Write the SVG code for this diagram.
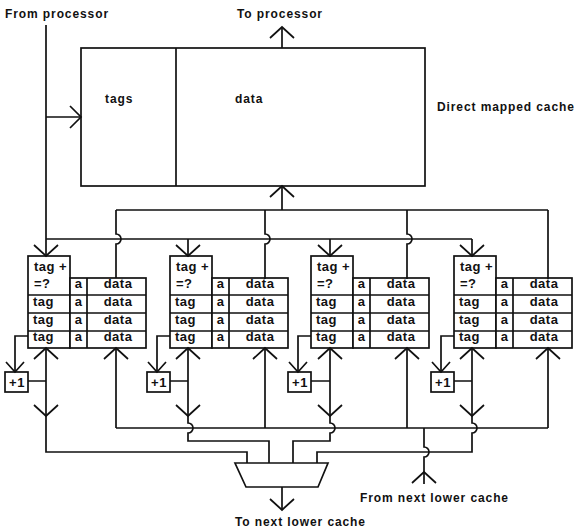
<svg xmlns="http://www.w3.org/2000/svg" xmlns:xlink="http://www.w3.org/1999/xlink" width="578" height="532" viewBox="0 0 578 532">
  <style>
    .ln { fill: none; stroke: #111; stroke-width: 1.7; stroke-linejoin: miter; }
    .bx { fill: #fff; stroke: #111; stroke-width: 1.7; }
    .t  { font-family: "Liberation Sans", Arial, Helvetica, sans-serif; font-weight: bold; font-size: 12px; letter-spacing: 0.9px; fill: #111; }
    .k  { font-size: 13px; letter-spacing: 0.5px; }
    .c  { text-anchor: middle; }
  </style>
  <defs>
    <!-- open arrowheads, apex at the origin -->
    <path id="ah-down" class="ln" d="M-12,-11 L0,0 L12,-11"/>
    <path id="ah-up" class="ln" d="M-12,11 L0,0 L12,11"/>
    <path id="ah-right" class="ln" d="M-11,-11 L0,0 L-11,11"/>
    <path id="ah-down-s" class="ln" d="M-9,-10 L0,0 L9,-10"/>
  </defs>
  <rect width="578" height="532" fill="#fff"/>

  <!-- outer labels -->
  <text class="t" x="5" y="18">From processor</text>
  <text class="t" x="237" y="18">To processor</text>
  <text class="t" x="360" y="502">From next lower cache</text>
  <text class="t" x="235" y="526">To next lower cache</text>

  <!-- direct mapped cache -->
  <g id="cache">
    <rect class="bx" x="81" y="48" width="344" height="138"/>
    <line class="ln" x1="176" y1="48" x2="176" y2="186"/>
    <text class="t" x="105" y="103">tags</text>
    <text class="t" x="235" y="103">data</text>
    <text class="t" x="437" y="111">Direct mapped cache</text>
  </g>

  <!-- stream buffers: tag column, available bits, data lines -->
  <g id="stream-buffer-1" transform="translate(0,0)">
    <rect class="bx" x="28" y="256" width="42" height="92"/>
    <rect class="bx" x="70" y="278" width="76" height="70"/>
    <path class="ln" d="M87,278 V348 M28,295 H146 M28,313 H146 M28,331 H146"/>
    <text class="t k" x="34" y="271">tag +</text>
    <text class="t k" x="34" y="287.5">=?</text>
    <text class="t k c" x="78.5" y="288">a</text><text class="t k c" x="118" y="288">data</text>
    <text class="t k" x="33" y="305.5">tag</text><text class="t k c" x="78.5" y="305.5">a</text><text class="t k c" x="118" y="305.5">data</text>
    <text class="t k" x="33" y="323.5">tag</text><text class="t k c" x="78.5" y="323.5">a</text><text class="t k c" x="118" y="323.5">data</text>
    <text class="t k" x="33" y="341">tag</text><text class="t k c" x="78.5" y="341">a</text><text class="t k c" x="118" y="341">data</text>
  </g>
  <g id="stream-buffer-2" transform="translate(142,0)">
    <rect class="bx" x="28" y="256" width="42" height="92"/>
    <rect class="bx" x="70" y="278" width="76" height="70"/>
    <path class="ln" d="M87,278 V348 M28,295 H146 M28,313 H146 M28,331 H146"/>
    <text class="t k" x="34" y="271">tag +</text>
    <text class="t k" x="34" y="287.5">=?</text>
    <text class="t k c" x="78.5" y="288">a</text><text class="t k c" x="118" y="288">data</text>
    <text class="t k" x="33" y="305.5">tag</text><text class="t k c" x="78.5" y="305.5">a</text><text class="t k c" x="118" y="305.5">data</text>
    <text class="t k" x="33" y="323.5">tag</text><text class="t k c" x="78.5" y="323.5">a</text><text class="t k c" x="118" y="323.5">data</text>
    <text class="t k" x="33" y="341">tag</text><text class="t k c" x="78.5" y="341">a</text><text class="t k c" x="118" y="341">data</text>
  </g>
  <g id="stream-buffer-3" transform="translate(283,0)">
    <rect class="bx" x="28" y="256" width="42" height="92"/>
    <rect class="bx" x="70" y="278" width="76" height="70"/>
    <path class="ln" d="M87,278 V348 M28,295 H146 M28,313 H146 M28,331 H146"/>
    <text class="t k" x="34" y="271">tag +</text>
    <text class="t k" x="34" y="287.5">=?</text>
    <text class="t k c" x="78.5" y="288">a</text><text class="t k c" x="118" y="288">data</text>
    <text class="t k" x="33" y="305.5">tag</text><text class="t k c" x="78.5" y="305.5">a</text><text class="t k c" x="118" y="305.5">data</text>
    <text class="t k" x="33" y="323.5">tag</text><text class="t k c" x="78.5" y="323.5">a</text><text class="t k c" x="118" y="323.5">data</text>
    <text class="t k" x="33" y="341">tag</text><text class="t k c" x="78.5" y="341">a</text><text class="t k c" x="118" y="341">data</text>
  </g>
  <g id="stream-buffer-4" transform="translate(426,0)">
    <rect class="bx" x="28" y="256" width="42" height="92"/>
    <rect class="bx" x="70" y="278" width="76" height="70"/>
    <path class="ln" d="M87,278 V348 M28,295 H146 M28,313 H146 M28,331 H146"/>
    <text class="t k" x="34" y="271">tag +</text>
    <text class="t k" x="34" y="287.5">=?</text>
    <text class="t k c" x="78.5" y="288">a</text><text class="t k c" x="118" y="288">data</text>
    <text class="t k" x="33" y="305.5">tag</text><text class="t k c" x="78.5" y="305.5">a</text><text class="t k c" x="118" y="305.5">data</text>
    <text class="t k" x="33" y="323.5">tag</text><text class="t k c" x="78.5" y="323.5">a</text><text class="t k c" x="118" y="323.5">data</text>
    <text class="t k" x="33" y="341">tag</text><text class="t k c" x="78.5" y="341">a</text><text class="t k c" x="118" y="341">data</text>
  </g>

  <!-- address incrementers -->
  <g id="incr-1"><rect class="bx" x="5" y="372" width="23" height="20"/><text class="t k c" x="17" y="387">+1</text></g>
  <g id="incr-2"><rect class="bx" x="147" y="372" width="23" height="20"/><text class="t k c" x="159" y="387">+1</text></g>
  <g id="incr-3"><rect class="bx" x="288" y="372" width="23" height="20"/><text class="t k c" x="300" y="387">+1</text></g>
  <g id="incr-4"><rect class="bx" x="431" y="372" width="23" height="20"/><text class="t k c" x="443" y="387">+1</text></g>

  <!-- output multiplexer -->
  <g id="mux">
    <path class="bx" d="M235,463 H328 L318,487 H246 Z"/>
  </g>

  <g id="connectors">
    <!-- processor address in, data out -->
    <path class="ln" d="M46,25 V256 M46,117 H81"/>
    <use xlink:href="#ah-right" x="81" y="117"/>
    <path class="ln" d="M282,48 V27"/>
    <use xlink:href="#ah-up" x="282" y="27"/>

    <!-- tag compare bus -->
    <path class="ln" d="M46,239 H472 M188,239 V256 M330,239 V256 M472,239 V256"/>
    <use xlink:href="#ah-down" x="46" y="256"/>
    <use xlink:href="#ah-down" x="188" y="256"/>
    <use xlink:href="#ah-down" x="330" y="256"/>
    <use xlink:href="#ah-down" x="472" y="256"/>

    <!-- buffer head data bus into the cache -->
    <path class="ln" d="M116,210 H548 M282,210 V186"/>
    <use xlink:href="#ah-up" x="282" y="186"/>
    <path class="ln" d="M116,210 V234 A5,5 0 0 1 116,244 V278"/>
    <path class="ln" d="M265,210 V234 A5,5 0 0 1 265,244 V279"/>
    <path class="ln" d="M407,210 V234 A5,5 0 0 1 407,244 V279"/>
    <path class="ln" d="M548,210 V279"/>

    <!-- refill data bus from the next lower cache -->
    <path class="ln" d="M116,428 H548 M116,348 V428 M265,348 V428 M407,348 V428 M548,348 V428"/>
    <use xlink:href="#ah-up" x="116" y="348"/>
    <use xlink:href="#ah-up" x="265" y="348"/>
    <use xlink:href="#ah-up" x="407" y="348"/>
    <use xlink:href="#ah-up" x="548" y="348"/>
    <path class="ln" d="M424,428 V447 A5,5 0 0 1 424,457 V484"/>
    <use xlink:href="#ah-up" x="424" y="472"/>

    <!-- incrementer loops -->
    <path class="ln" d="M28,336 H15 V372 M28,381 H46"/>
    <path class="ln" d="M170,336 H157 V372 M170,381 H188"/>
    <path class="ln" d="M311,336 H298 V372 M311,381 H330"/>
    <path class="ln" d="M454,336 H441 V372 M454,381 H472"/>
    <use xlink:href="#ah-down-s" x="15" y="372"/>
    <use xlink:href="#ah-down-s" x="157" y="372"/>
    <use xlink:href="#ah-down-s" x="298" y="372"/>
    <use xlink:href="#ah-down-s" x="441" y="372"/>

    <!-- prefetch addresses to the multiplexer -->
    <path class="ln" d="M46,348 V452 H247 V463"/>
    <path class="ln" d="M188,348 V423 A5,5 0 0 1 188,433 V441 H269 V463"/>
    <path class="ln" d="M330,348 V423 A5,5 0 0 1 330,433 V441 H293 V463"/>
    <path class="ln" d="M472,348 V423 A5,5 0 0 1 472,433 V452 H317 V463"/>
    <use xlink:href="#ah-up" x="46" y="348"/>
    <use xlink:href="#ah-up" x="188" y="348"/>
    <use xlink:href="#ah-up" x="330" y="348"/>
    <use xlink:href="#ah-up" x="472" y="348"/>
    <use xlink:href="#ah-down" x="46" y="416"/>
    <use xlink:href="#ah-down" x="188" y="416"/>
    <use xlink:href="#ah-down" x="330" y="416"/>
    <use xlink:href="#ah-down" x="472" y="416"/>

    <!-- multiplexer output -->
    <path class="ln" d="M282,487 V510"/>
    <use xlink:href="#ah-down" x="282" y="510"/>
  </g>
</svg>
